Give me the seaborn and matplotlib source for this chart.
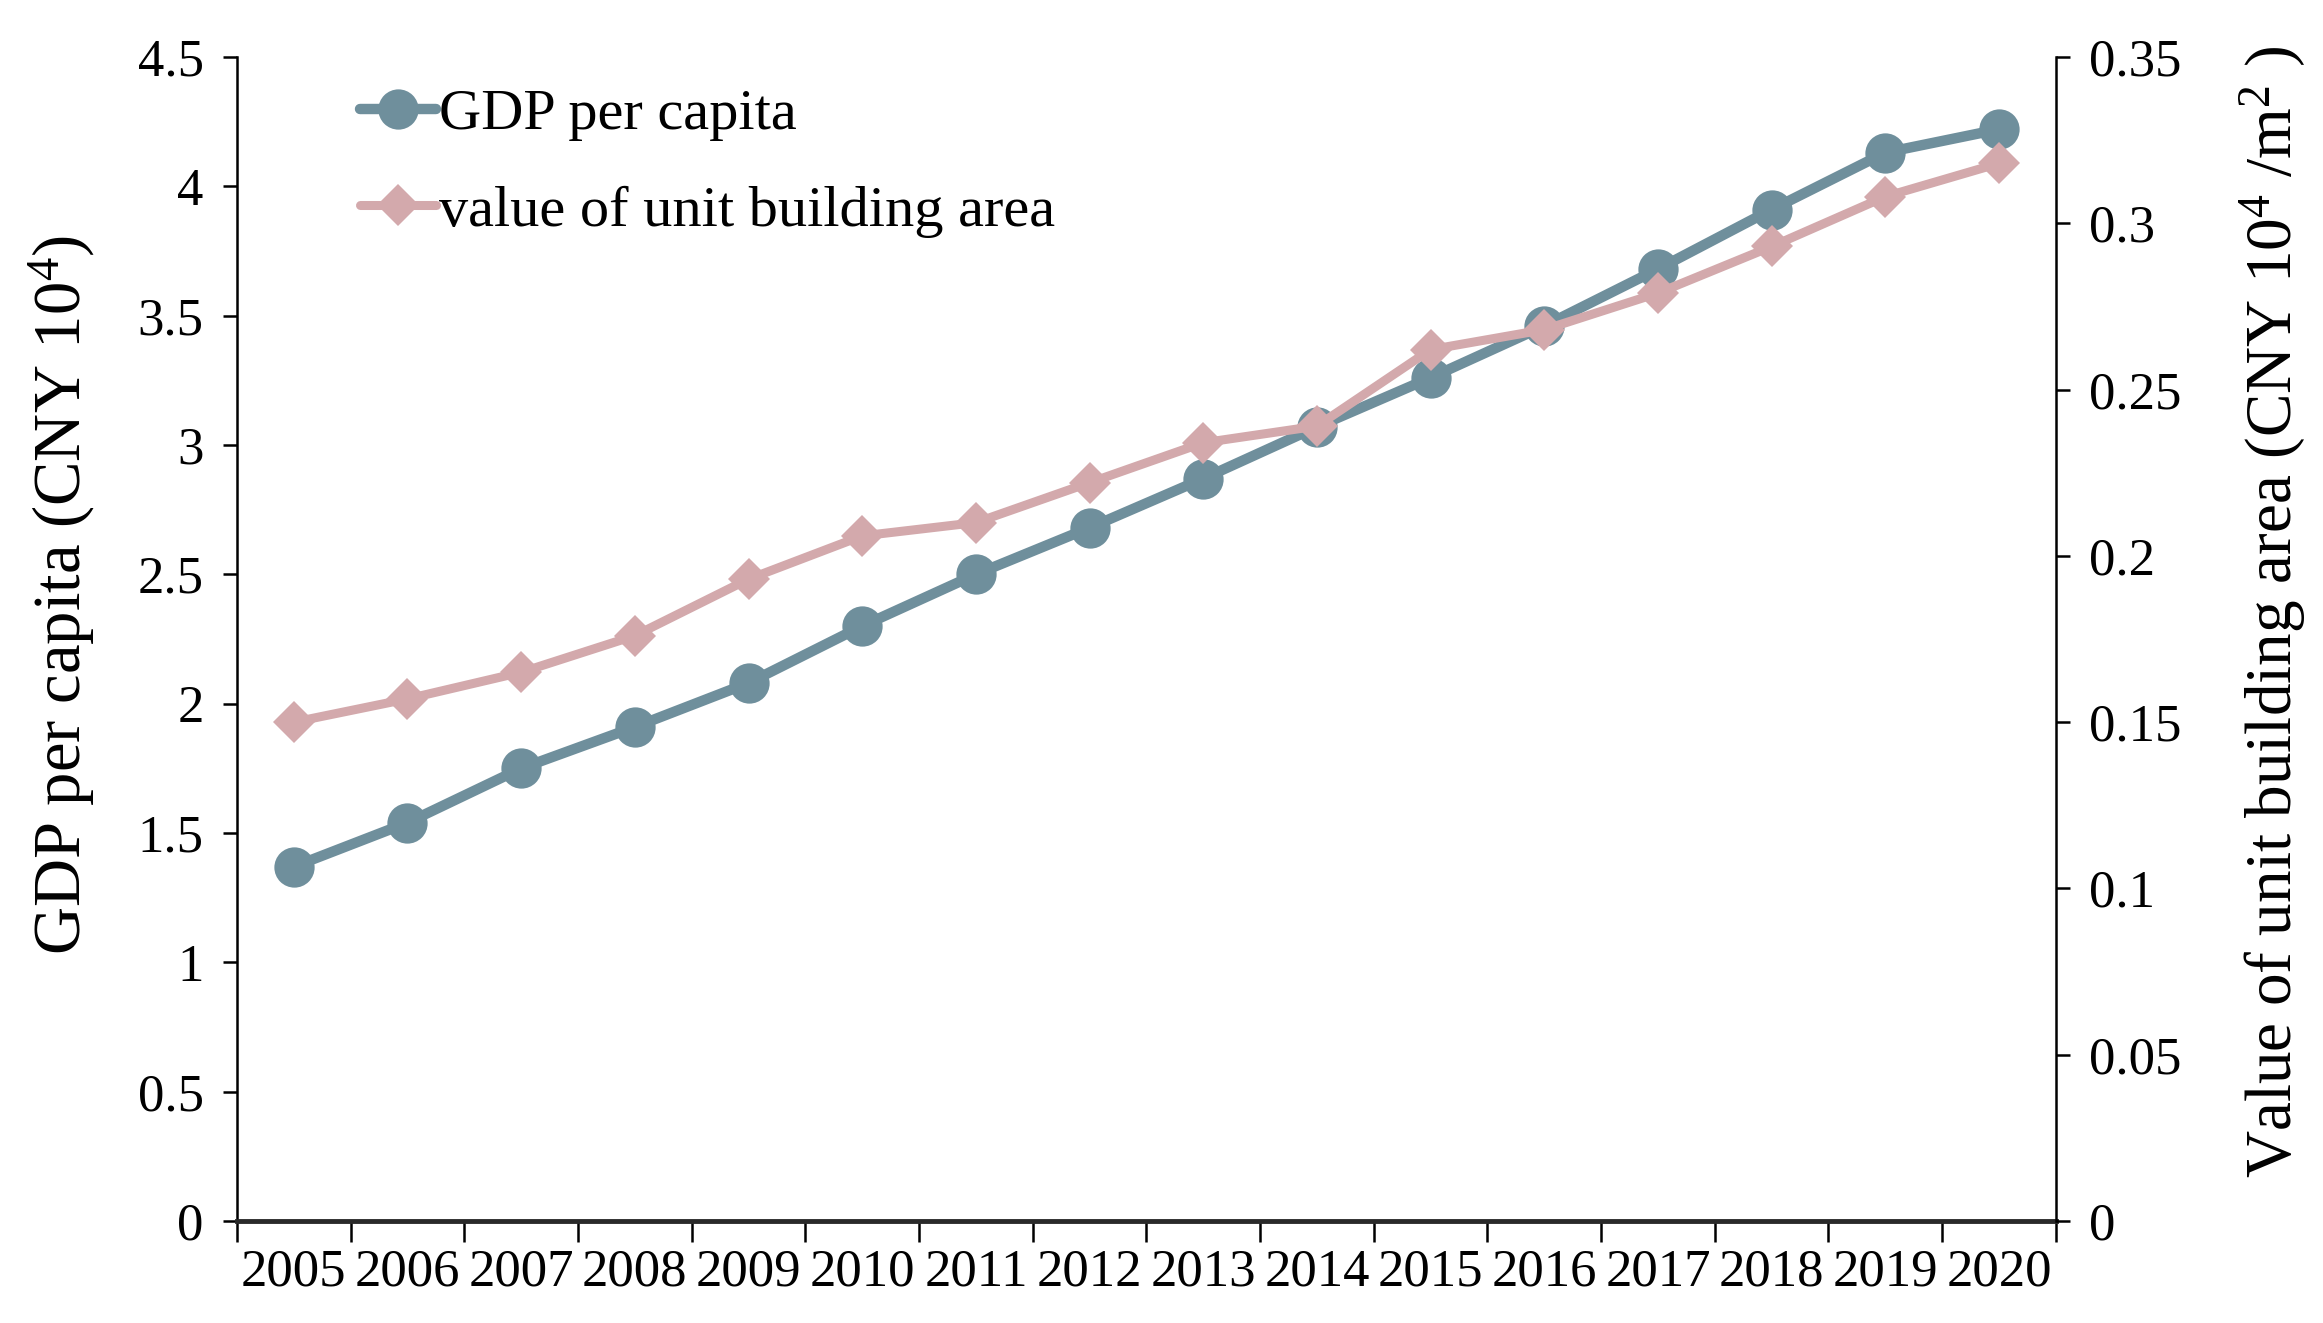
import matplotlib
matplotlib.use("Agg")
import matplotlib.pyplot as plt
import seaborn as sns
import pandas as pd
import numpy as np
from matplotlib.ticker import FixedLocator, FuncFormatter

years = ["2005", "2006", "2007", "2008", "2009", "2010", "2011", "2012",
         "2013", "2014", "2015", "2016", "2017", "2018", "2019", "2020"]
gdp_per_capita = [1.37, 1.54, 1.75, 1.91, 2.08, 2.30, 2.50, 2.68,
                  2.87, 3.07, 3.26, 3.46, 3.68, 3.91, 4.13, 4.22]
unit_building_value = [0.150, 0.157, 0.165, 0.176, 0.193, 0.206, 0.210, 0.222,
                       0.234, 0.239, 0.262, 0.268, 0.279, 0.293, 0.308, 0.318]
left_ticks = [0, 0.5, 1, 1.5, 2, 2.5, 3, 3.5, 4, 4.5]
right_ticks = [0, 0.05, 0.1, 0.15, 0.2, 0.25, 0.3, 0.35]

sns.set_theme(style="white")
plt.rcParams["font.family"] = ["Liberation Serif", "DejaVu Serif"]
plt.rcParams["mathtext.fontset"] = "custom"
plt.rcParams["mathtext.rm"] = "Liberation Serif"
plt.rcParams["mathtext.it"] = "Liberation Serif"
plt.rcParams["text.color"] = "black"
plt.rcParams["axes.labelcolor"] = "black"
plt.rcParams["xtick.color"] = "black"
plt.rcParams["ytick.color"] = "black"

df = pd.DataFrame({"idx": np.arange(len(years)), "year": years,
                   "gdp": gdp_per_capita, "val": unit_building_value})

blue = "#6f8f9c"
pink = "#d3a9ac"

fig = plt.figure(figsize=(23.23, 13.23), dpi=100)
ax = fig.add_axes([0.102, 0.077, 0.783, 0.880])
ax2 = ax.twinx()

sns.lineplot(data=df, x="idx", y="gdp", ax=ax, color=blue, lw=7.5,
             marker="o", markersize=29, markeredgewidth=0, label="GDP per capita",
             legend=False)
sns.lineplot(data=df, x="idx", y="val", ax=ax2, color=pink, lw=6.5,
             marker="D", markersize=21, markeredgewidth=0,
             label="value of unit building area", legend=False)

n = len(years)
ax.set_xlim(-0.5, n - 0.5)
ax.set_ylim(0, 4.5)
ax2.set_ylim(0, 0.35)

ax.xaxis.set_major_locator(FixedLocator(np.arange(-0.5, n, 1.0)))
ax.xaxis.set_major_formatter(FuncFormatter(lambda v, p: ""))
ax.xaxis.set_minor_locator(FixedLocator(np.arange(0, n)))
ax.xaxis.set_minor_formatter(FuncFormatter(lambda v, p: years[int(round(v))] if 0 <= int(round(v)) < n else ""))
ax.tick_params(axis="x", which="major", direction="out", length=15, width=1.8,
               bottom=True, color="black")
ax.tick_params(axis="x", which="minor", length=0, labelsize=38, pad=20)

ax.set_yticks(left_ticks)
ax.yaxis.set_major_formatter(FuncFormatter(lambda v, p: f"{v:g}"))
ax.tick_params(axis="y", direction="out", length=10, width=1.8, left=True,
               labelsize=38, pad=14, color="black")
ax2.set_yticks(right_ticks)
ax2.yaxis.set_major_formatter(FuncFormatter(lambda v, p: f"{v:g}"))
ax2.tick_params(axis="y", direction="out", length=10, width=1.8, right=True,
                labelsize=38, pad=14, color="black")

for a in (ax, ax2):
    a.spines["top"].set_visible(False)
    a.spines["left"].set_color("black")
    a.spines["right"].set_color("black")
    a.spines["left"].set_linewidth(1.8)
    a.spines["right"].set_linewidth(1.8)
    a.spines["bottom"].set_color("#2a2a2a")
    a.spines["bottom"].set_linewidth(3.5)
    a.grid(False)
ax2.spines["left"].set_visible(False)
ax.spines["right"].set_visible(False)
ax2.spines["bottom"].set_visible(False)

ax.set_xlabel("")
ax.set_ylabel("GDP per capita (CNY 10$^4$)", fontsize=48, labelpad=29)
ax2.set_ylabel("Value of unit building area (CNY 10$^4$ /m$^2$ )", fontsize=47,
               labelpad=40)
ax.yaxis.label.set_y(0.538)
ax2.yaxis.label.set_y(0.523)

h1, l1 = ax.get_legend_handles_labels()
h2, l2 = ax2.get_legend_handles_labels()
ax.legend(h1 + h2, l1 + l2, loc="upper left", bbox_to_anchor=(0.055, 0.993),
          frameon=False, fontsize=42, handlelength=1.3, handletextpad=0.05,
          labelspacing=0.75, borderaxespad=0)

ax2.set_zorder(ax.get_zorder() + 1)
ax.patch.set_visible(True)
ax2.patch.set_visible(False)

fig.savefig("out.png", dpi=100, facecolor="white")
